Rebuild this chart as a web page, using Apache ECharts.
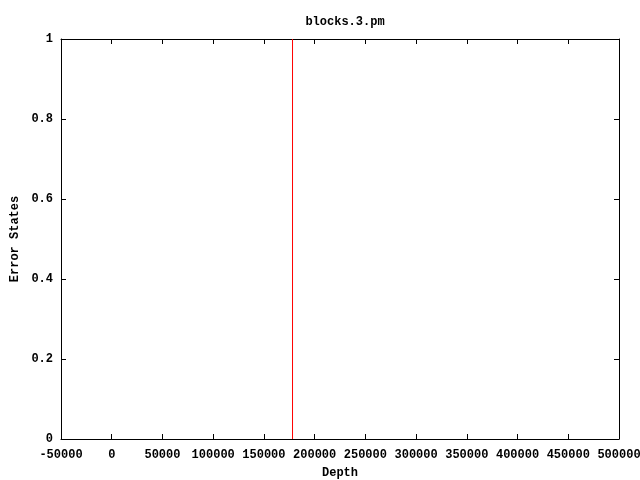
<!DOCTYPE html>
<html><head><meta charset="utf-8">
<script src="https://cdn.jsdelivr.net/npm/echarts@6/dist/echarts.min.js"></script>
<style>html,body{margin:0;padding:0;background:#fff}#c{width:640px;height:480px}</style>
</head><body><div id="c"></div>
<script>
var titleText = "blocks.3.pm";
var xName = "Depth";
var yName = "Error States";
var xMin = -50000, xMax = 500000, xStep = 50000;
var yMin = 0, yMax = 1, yStep = 0.2;
var lineX = [178200, 178200];
var lineY = [0, 1];

var font = "'Liberation Mono', 'DejaVu Sans Mono', monospace";
var chart = echarts.init(document.getElementById('c'), null, {renderer: 'canvas'});
var axisCommon = {
  axisLine: {show: true, onZero: false, lineStyle: {color: '#000', width: 1}},
  axisTick: {show: true, inside: true, length: 5, lineStyle: {color: '#000'}},
  splitLine: {show: false}
};
function ax(extra) { return Object.assign({}, JSON.parse(JSON.stringify(axisCommon)), extra); }
chart.setOption({
  animation: false,
  backgroundColor: '#fff',
  title: {text: titleText, left: 340, textAlign: 'center', top: 11,
    textStyle: {fontFamily: font, fontWeight: 'bold', fontSize: 12, color: '#000'}},
  grid: {left: 61, right: 21, top: 39, bottom: 41, containLabel: false, outerBoundsMode: 'none'},
  xAxis: [
    ax({type: 'value', position: 'bottom', min: xMin, max: xMax, interval: xStep,
      name: xName, nameLocation: 'middle', nameGap: 28,
      nameTextStyle: {fontFamily: font, fontWeight: 'bold', fontSize: 12, color: '#000'},
      axisLabel: {margin: 10, fontFamily: font, fontWeight: 'bold', fontSize: 12, color: '#000',
        showMaxLabel: true, showMinLabel: true, hideOverlap: false, interval: 0,
        formatter: function (v) { return String(v); }}}),
    ax({type: 'value', position: 'top', min: xMin, max: xMax, interval: xStep, axisLabel: {show: false}})
  ],
  yAxis: [
    ax({type: 'value', position: 'left', min: yMin, max: yMax, interval: yStep,
      name: yName, nameLocation: 'middle', nameGap: 40, nameRotate: 90,
      nameTextStyle: {fontFamily: font, fontWeight: 'bold', fontSize: 12, color: '#000'},
      axisLabel: {margin: 8, fontFamily: font, fontWeight: 'bold', fontSize: 12, color: '#000',
        formatter: function (v) { return String(Math.round(v * 10) / 10); }}}),
    ax({type: 'value', position: 'right', min: yMin, max: yMax, interval: yStep, axisLabel: {show: false}})
  ],
  series: [{
    type: 'line', xAxisIndex: 0, yAxisIndex: 0, symbol: 'none',
    lineStyle: {color: '#ff0000', width: 1},
    data: lineX.map(function (x, i) { return [x, lineY[i]]; })
  }]
});
</script></body></html>
